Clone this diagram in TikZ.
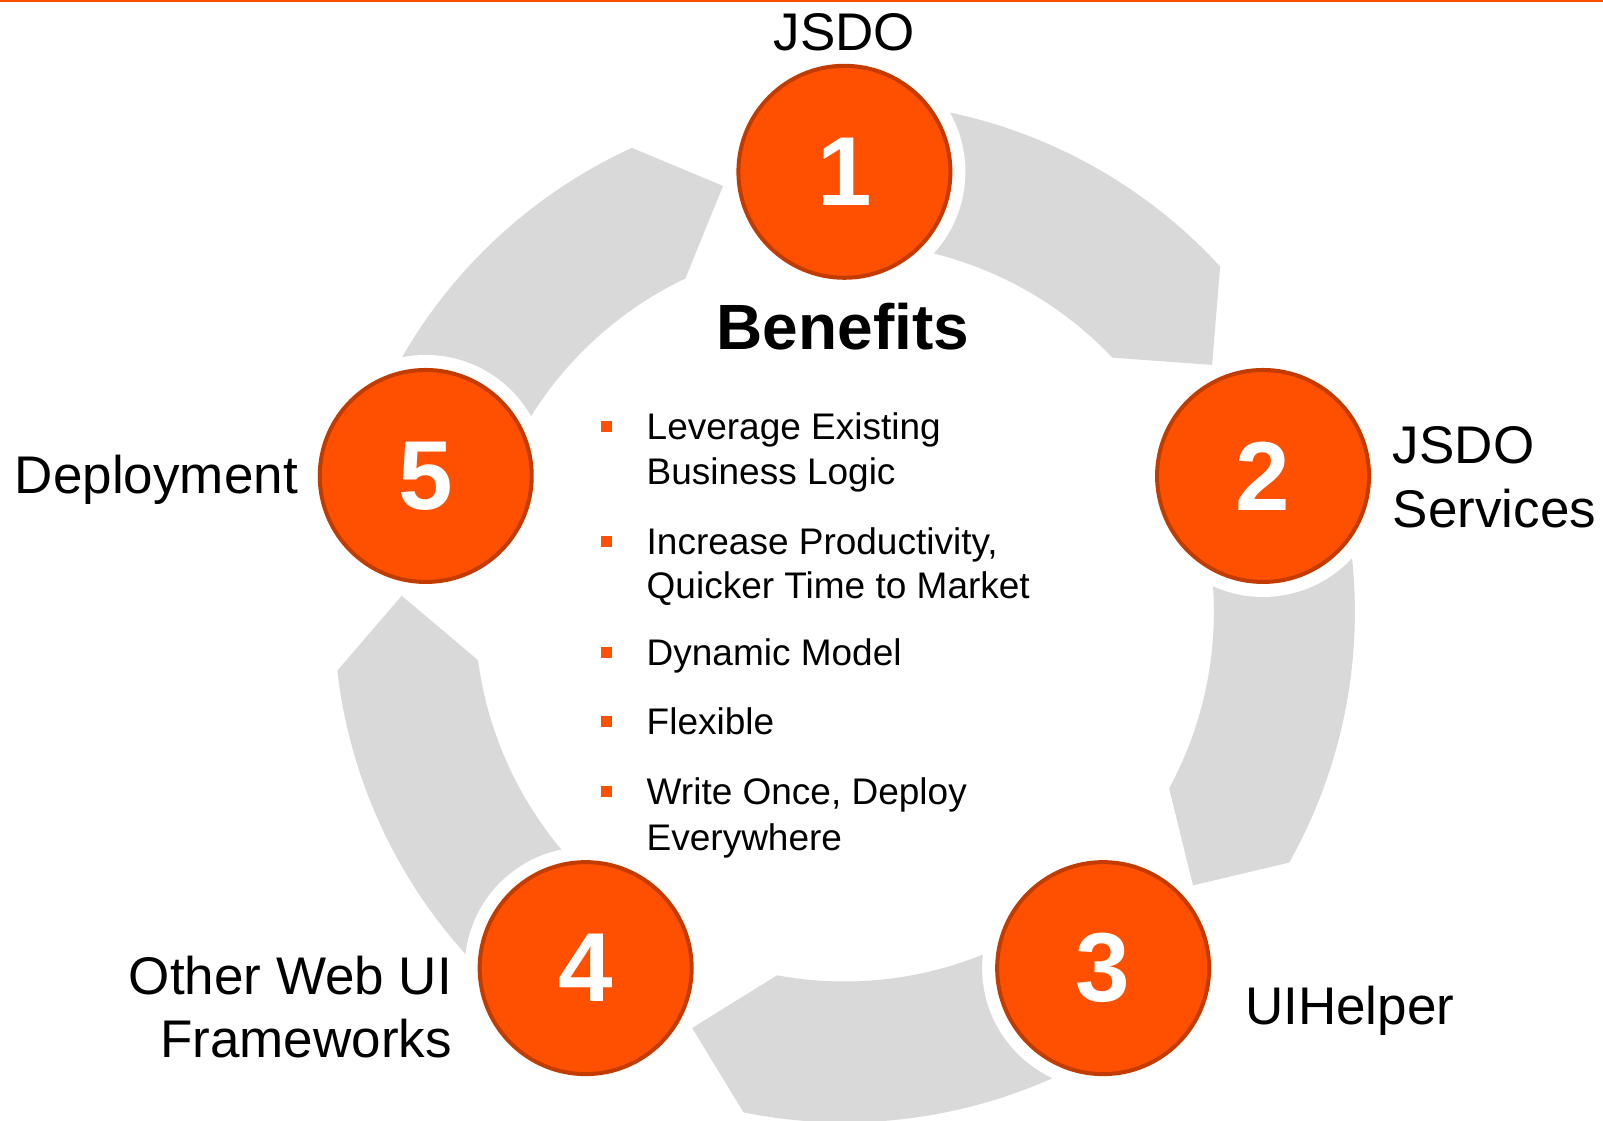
\documentclass[tikz,border=0pt]{standalone}
\usepackage{fontspec}
\setmainfont{Liberation Sans}
\usetikzlibrary{calc}
\definecolor{orng}{HTML}{FF5000}
\definecolor{orngdark}{HTML}{C23C00}
\definecolor{arrgray}{HTML}{D9D9D9}
\begin{document}
\begin{tikzpicture}[x=1pt,y=1pt,
  numcircle/.style={circle, minimum size=212pt, inner sep=0pt, fill=orng, draw=orngdark, line width=4pt, text=white,
    font=\fontsize{98}{100}\selectfont\bfseries, preaction={draw=white, line width=30pt}},
  lbl/.style={font=\fontsize{53}{60}\selectfont, inner sep=0pt},
  blt/.style={font=\fontsize{37}{44}\selectfont, inner sep=0pt, anchor=base west},
  sq/.style={fill=orng, minimum size=11pt, inner sep=0pt, draw=none},
  band/.style={fill=arrgray}]
\useasboundingbox (0,0) rectangle (1603,1120);
\clip (0,0) rectangle (1603,1120);
\fill[orng] (0,1117.5) rectangle (1603,1120);
\coordinate (C) at (844.4,508);
% cycle arrows
\foreach \a in {90,18,-54,-126,-198} {
  \pgfmathsetmacro\angA{\a-5}
  \pgfmathsetmacro\angB{\a-47.4}
  \pgfmathsetmacro\angT{\a-56.1}
  \pgfmathsetmacro\angC{\a-46.5}
  \fill[band] ($(C)+(\angA:510.5)$) arc[start angle=\angA, end angle=\angB, radius=510.5pt]
    -- ($(C)+(\angT:443)$) -- ($(C)+(\angC:369.5)$)
    arc[start angle=\angC, end angle=\angA, radius=369.5pt] -- cycle;
}
% numbered circles
\node[numcircle] (c1) at ($(C)+(90:440.2)$) {1};
\node[numcircle] (c2) at ($(C)+(18:440.2)$) {2};
\node[numcircle] (c3) at ($(C)+(-54:440.2)$) {3};
\node[numcircle] (c4) at ($(C)+(-126:440.2)$) {4};
\node[numcircle] (c5) at ($(C)+(162:440.2)$) {5};
% labels
\node[lbl, anchor=base] (l1) at (844.4,1069.5) {JSDO};
\node[lbl, anchor=base west] (l2a) at (1392.7,656.7) {JSDO};
\node[lbl, anchor=base west] (l2b) at (1392.7,592.7) {Services};
\node[lbl, anchor=base west] (l3) at (1245,96) {UIHelper};
\node[lbl, anchor=base east] (l4a) at (452,126) {Other Web UI};
\node[lbl, anchor=base east] (l4b) at (452,63) {Frameworks};
\node[lbl, anchor=base east] (l5) at (298,626) {Deployment};
% centre
\node[font=\fontsize{64}{70}\selectfont\bfseries, anchor=base, inner sep=0pt] (ben) at (843,770) {Benefits};
\node[blt] (b1a) at (646.5,680) {Leverage Existing};
\node[blt] (b1b) at (646.5,635.7) {Business Logic};
\node[blt] (b2a) at (646.5,565.7) {Increase Productivity,};
\node[blt] (b2b) at (646.5,521) {Quicker Time to Market};
\node[blt] (b3) at (646.5,454) {Dynamic Model};
\node[blt] (b4) at (646.5,385) {Flexible};
\node[blt] (b5a) at (646.5,315.7) {Write Once, Deploy};
\node[blt] (b5b) at (646.5,270) {Everywhere};
\node[sq] (s1) at ($(b1a.base west)+(-40,13)$) {};
\node[sq] (s2) at ($(b2a.base west)+(-40,13)$) {};
\node[sq] (s3) at ($(b3.base west)+(-40,13)$) {};
\node[sq] (s4) at ($(b4.base west)+(-40,13)$) {};
\node[sq] (s5) at ($(b5a.base west)+(-40,13)$) {};
\end{tikzpicture}
\end{document}
